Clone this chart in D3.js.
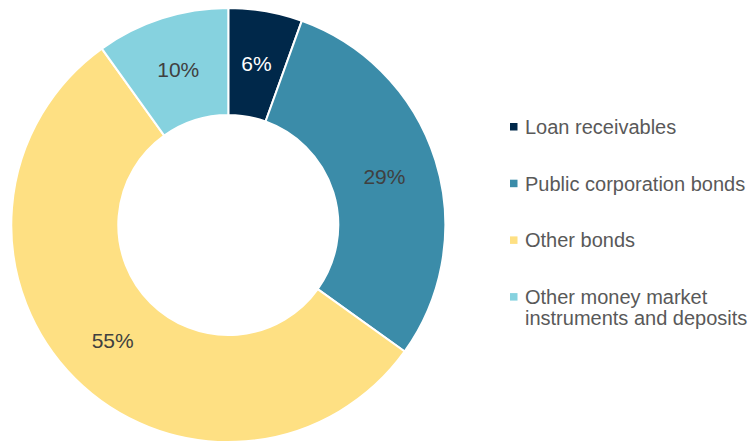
<!DOCTYPE html>
<html>
<head>
<meta charset="utf-8">
<script src="https://cdn.jsdelivr.net/npm/d3@7"></script>
<style>
  body { margin: 0; background: #fff; }
  text { font-family: Arial, "Liberation Sans", sans-serif; }
</style>
</head>
<body>
<svg id="chart" width="755" height="442"></svg>
<script>
// data
var categories = ["Loan receivables", "Public corporation bonds", "Other bonds", "Other money market instruments and deposits"];
var shares = [5.5, 29.4, 55.2, 9.9];
var labels = ["6%", "29%", "55%", "10%"];
var colors = ["#00284a", "#3b8ca9", "#fee083", "#86d2df"];
var labelColors = ["#ffffff", "#404040", "#404040", "#404040"];
// legend wraps the long entry on two lines
var legendLines = [["Loan receivables"], ["Public corporation bonds"], ["Other bonds"], ["Other money market", "instruments and deposits"]];

var cx = 228.3, cy = 225;
var outerR = 217, innerR = 110;

var svg = d3.select("#chart");
var g = svg.append("g").attr("transform", "translate(" + cx + "," + cy + ")");

var pie = d3.pie().sort(null).value(function(d) { return d; });
var arc = d3.arc().innerRadius(innerR).outerRadius(outerR);
var arcs = pie(shares);

g.selectAll("path.slice")
    .data(arcs)
    .enter().append("path")
    .attr("class", "slice")
    .attr("d", arc)
    .attr("fill", function(d, i) { return colors[i]; })
    .attr("stroke", "#fff")
    .attr("stroke-width", 2);

g.selectAll("text.lbl")
    .data(arcs)
    .enter().append("text")
    .attr("class", "lbl")
    .attr("transform", function(d) { return "translate(" + arc.centroid(d) + ")"; })
    .attr("text-anchor", "middle")
    .attr("dy", "0.36em")
    .style("font-size", "21px")
    .attr("fill", function(d, i) { return labelColors[i]; })
    .text(function(d, i) { return labels[i]; });

// legend
var legendX = 510, legendY = 134, legendStep = 56.7;
var leg = svg.append("g");
var item = leg.selectAll("g.item")
    .data(categories)
    .enter().append("g")
    .attr("class", "item")
    .attr("transform", function(d, i) { return "translate(" + legendX + "," + (legendY + i * legendStep) + ")"; });

item.append("rect")
    .attr("x", 0)
    .attr("y", -11)
    .attr("width", 7.5)
    .attr("height", 7.5)
    .attr("fill", function(d, i) { return colors[i]; });

item.append("text")
    .attr("x", 15)
    .attr("fill", "#595959")
    .style("font-size", "20px")
    .each(function(d, i) {
        var t = d3.select(this);
        legendLines[i].forEach(function(line, j) {
            t.append("tspan").attr("x", 15).attr("dy", j === 0 ? 0 : 21).text(line);
        });
    });
</script>
</body>
</html>
